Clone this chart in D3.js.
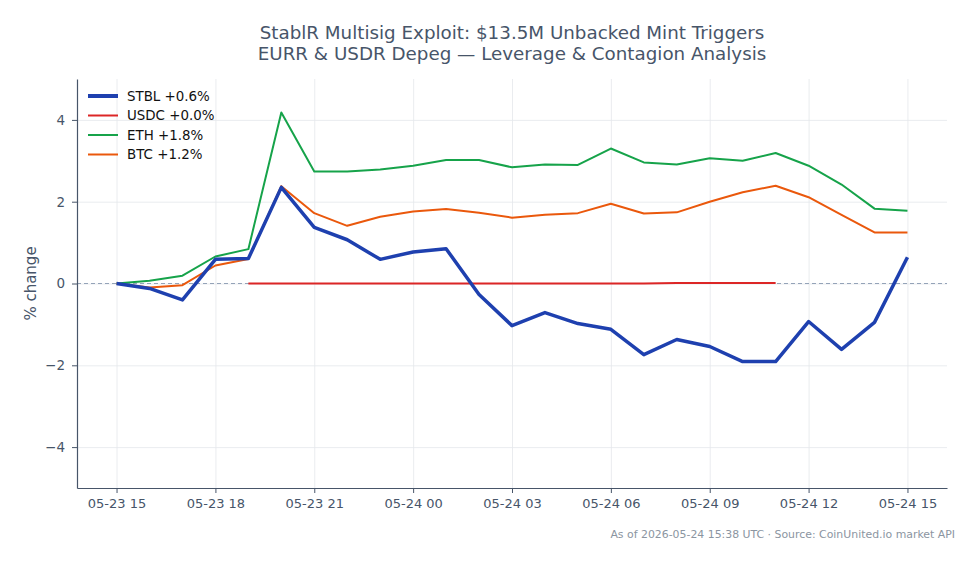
<!DOCTYPE html>
<html>
<head>
<meta charset="utf-8">
<script src="https://cdn.jsdelivr.net/npm/d3@7"></script>
<style>
  body { margin: 0; background: #fff; }
  svg { font-family: "DejaVu Sans", sans-serif; }
  .grid line { stroke: #e5e7eb; stroke-width: 0.8; }
  .grid path { display: none; }
  .axis path, .axis line { stroke: #475569; }
  .axis text { fill: #475569; font-size: 13px; font-family: "DejaVu Sans", sans-serif; }
</style>
</head>
<body>
<div id="chart-container"></div>
<script>
const width = 979;
const height = 564;
const margin = { top: 79, right: 32, bottom: 76, left: 77 };

// hourly timestamps, 2026-05-23 15:00 -> 2026-05-24 15:00 UTC
const hours = d3.utcHours(new Date(Date.UTC(2026, 4, 23, 15)), new Date(Date.UTC(2026, 4, 24, 15, 1)));

const stbl = [0, -0.12, -0.4, 0.59, 0.61, 2.35, 1.37, 1.07, 0.59, 0.77, 0.85, -0.27, -1.03, -0.71, -0.98, -1.12, -1.74, -1.37, -1.54, -1.91, -1.91, -0.93, -1.61, -0.95, 0.64];
const usdc = [null, null, null, null, 0, 0, 0, 0, 0, 0, 0, 0, 0, 0, 0, 0, 0, 0.01, 0.01, 0.01, 0.01, null, null, null, null];
const eth = [0, 0.07, 0.19, 0.66, 0.84, 4.18, 2.74, 2.74, 2.79, 2.88, 3.02, 3.02, 2.84, 2.91, 2.9, 3.3, 2.96, 2.91, 3.06, 3.0, 3.19, 2.88, 2.42, 1.83, 1.78];
const btc = [0, -0.1, -0.04, 0.44, 0.6, 2.38, 1.72, 1.41, 1.63, 1.76, 1.82, 1.73, 1.61, 1.68, 1.72, 1.95, 1.71, 1.74, 2.0, 2.23, 2.39, 2.11, 1.68, 1.25, 1.25];

const seriesNames = ["STBL", "USDC", "ETH", "BTC"];
const legendLabels = ["STBL +0.6%", "USDC +0.0%", "ETH +1.8%", "BTC +1.2%"];
const yTicks = [-4, -2, 0, 2, 4];

const colors = { STBL: "#1e40af", USDC: "#dc2626", ETH: "#16a34a", BTC: "#ea580c" };
const widths = { STBL: 3.5, USDC: 2, ETH: 2, BTC: 2 };
const values = { STBL: stbl, USDC: usdc, ETH: eth, BTC: btc };

const svg = d3.select("#chart-container")
  .append("svg")
  .attr("width", width)
  .attr("height", height);

const innerW = width - margin.left - margin.right;
const innerH = height - margin.top - margin.bottom;

const g = svg.append("g").attr("transform", `translate(${margin.left},${margin.top})`);

// 5% padding on the time axis like the original
const t0 = hours[0], t1 = hours[hours.length - 1];
const pad = (t1 - t0) * 0.05;
const x = d3.scaleUtc()
  .domain([new Date(+t0 - pad), new Date(+t1 + pad)])
  .range([0, innerW]);

const y = d3.scaleLinear().domain([-5, 5]).range([innerH, 0]);

const xTicks = d3.utcHours(t0, new Date(+t1 + 1), 3);
const fmt = d3.utcFormat("%m-%d %H");

// grid
g.append("g").attr("class", "grid")
  .call(d3.axisBottom(x).tickValues(xTicks).tickSize(innerH).tickFormat(""));
g.append("g").attr("class", "grid")
  .call(d3.axisLeft(y).tickValues(yTicks).tickSize(-innerW).tickFormat(""));

// zero reference
g.append("line")
  .attr("x1", 0).attr("x2", innerW)
  .attr("y1", y(0)).attr("y2", y(0))
  .attr("stroke", "#94a3b8")
  .attr("stroke-width", 1)
  .attr("stroke-dasharray", "4,3");

// lines
const line = d3.line()
  .defined(d => d[1] !== null)
  .x(d => x(d[0]))
  .y(d => y(d[1]));

// draw thin ones first, STBL on top
["USDC", "ETH", "BTC", "STBL"].forEach(name => {
  g.append("path")
    .datum(hours.map((h, i) => [h, values[name][i]]))
    .attr("fill", "none")
    .attr("stroke", colors[name])
    .attr("stroke-width", widths[name])
    .attr("stroke-linejoin", "round")
    .attr("d", line);
});

// axes
const xAxis = g.append("g").attr("class", "axis")
  .attr("transform", `translate(0,${innerH})`)
  .call(d3.axisBottom(x).tickValues(xTicks).tickFormat(fmt).tickSize(5).tickPadding(6).tickSizeOuter(0));
xAxis.select(".domain").attr("stroke-width", 1.2);

const yAxis = g.append("g").attr("class", "axis")
  .call(d3.axisLeft(y).tickValues(yTicks).tickSize(5).tickPadding(7).tickSizeOuter(0)
    .tickFormat(d => d < 0 ? "\u2212" + Math.abs(d) : d));
yAxis.select(".domain").attr("stroke-width", 1.2);
yAxis.selectAll("text").style("font-size", "13.5px");

// y label
g.append("text")
  .attr("transform", "rotate(-90)")
  .attr("x", -innerH / 2)
  .attr("y", -41)
  .attr("text-anchor", "middle")
  .attr("fill", "#475569")
  .style("font-size", "15px")
  .text("% change");

// title
const title = svg.append("text")
  .attr("x", margin.left + innerW / 2)
  .attr("text-anchor", "middle")
  .attr("fill", "#475569")
  .style("font-size", "18.3px");
title.append("tspan").attr("x", margin.left + innerW / 2).attr("y", 39).text("StablR Multisig Exploit: $13.5M Unbacked Mint Triggers");
title.append("tspan").attr("x", margin.left + innerW / 2).attr("y", 60).text("EURR & USDR Depeg \u2014 Leverage & Contagion Analysis");

// legend
const legend = g.append("g").attr("transform", "translate(11,17)");
seriesNames.forEach((name, i) => {
  const row = legend.append("g").attr("transform", `translate(0,${i * 19.5})`);
  row.append("line")
    .attr("x1", 0).attr("x2", 30)
    .attr("stroke", colors[name])
    .attr("stroke-width", widths[name] + (name === "STBL" ? 0.5 : 0));
  row.append("text")
    .attr("x", 39).attr("y", 4.8)
    .attr("fill", "#111")
    .style("font-size", "13.4px")
    .text(legendLabels[i]);
});

// footnote
svg.append("text")
  .attr("x", 955)
  .attr("y", 538)
  .attr("text-anchor", "end")
  .attr("fill", "#8b95a1")
  .style("font-size", "10.9px")
  .text("As of 2026-05-24 15:38 UTC \u00b7 Source: CoinUnited.io market API");
</script>
</body>
</html>
